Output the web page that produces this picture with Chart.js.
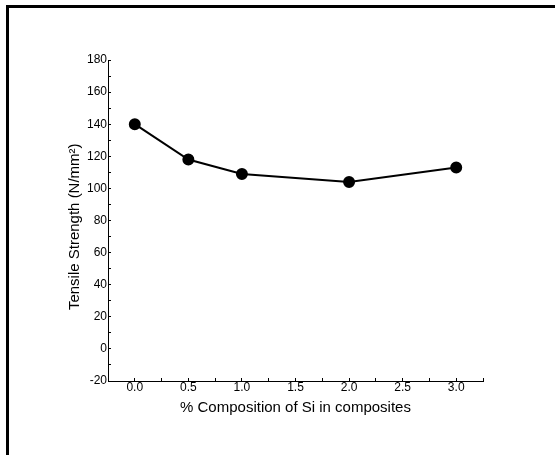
<!DOCTYPE html>
<html>
<head>
<meta charset="utf-8">
<script src="https://cdn.jsdelivr.net/npm/chart.js@4"></script>
<style>
  html, body { margin: 0; padding: 0; background: #fff; }
  #wrap { position: relative; width: 555px; height: 455px; }
  #frame {
    position: absolute; left: 6px; top: 5px; width: 546px; height: 447px;
    border-left: 3px solid #000; border-top: 3px solid #000; pointer-events: none;
  }
</style>
</head>
<body>
<div id="wrap">
  <canvas id="grafico" width="555" height="455"></canvas>
  <div id="frame"></div>
</div>
<script>
const composicaoSi = [0.0, 0.5, 1.0, 2.0, 3.0];
const resistencia = [140, 118, 109, 104, 113];
const rotuloX = "% Composition of Si in composites";
const rotuloY = "Tensile Strength (N/mm\u00B2)";

const fonte = "'Liberation Sans', Arial, sans-serif";

const ctx = document.getElementById("grafico").getContext("2d");
new Chart(ctx, {
  type: "scatter",
  data: {
    datasets: [{
      data: composicaoSi.map((x, i) => ({ x, y: resistencia[i] })),
      showLine: true,
      borderColor: "#000",
      backgroundColor: "#000",
      borderWidth: 2,
      pointRadius: 5,
      pointHoverRadius: 5,
      tension: 0,
    }],
  },
  options: {
    responsive: false,
    animation: false,
    layout: { padding: { top: 60, right: 72, bottom: 0, left: 0 } },
    plugins: { legend: { display: false }, tooltip: { enabled: false } },
    scales: {
      x: {
        type: "linear",
        min: -0.25,
        max: 3.25,
        afterFit: (s) => { s.height = 74; },
        border: { display: true, color: "#000", width: 1 },
        grid: { drawOnChartArea: false, drawTicks: true, tickLength: -3, color: "#000" },
        ticks: {
          stepSize: 0.25,
          padding: 2.3,
          color: "#000",
          font: { family: fonte, size: 12 },
          maxRotation: 0,
          autoSkip: false,
          callback: (v) => (Math.abs(v * 2 - Math.round(v * 2)) < 1e-6 && v >= 0 ? v.toFixed(1) : ""),
        },
        title: {
          display: true,
          text: rotuloX,
          color: "#000",
          font: { family: fonte, size: 15 },
          padding: { top: 0, bottom: 38 },
        },
      },
      y: {
        min: -20,
        max: 180,
        afterFit: (s) => { s.width = 108; },
        border: { display: true, color: "#000", width: 1 },
        grid: { drawOnChartArea: false, drawTicks: true, tickLength: -3, color: "#000" },
        ticks: {
          stepSize: 10,
          padding: 4,
          color: "#000",
          font: { family: fonte, size: 12 },
          autoSkip: false,
          callback: (v) => (v % 20 === 0 ? String(v) : ""),
        },
        title: {
          display: true,
          text: rotuloY + "   ",
          color: "#000",
          font: { family: fonte, size: 15 },
          padding: { top: 66, bottom: 0 },
        },
      },
    },
  },
});
</script>
</body>
</html>
